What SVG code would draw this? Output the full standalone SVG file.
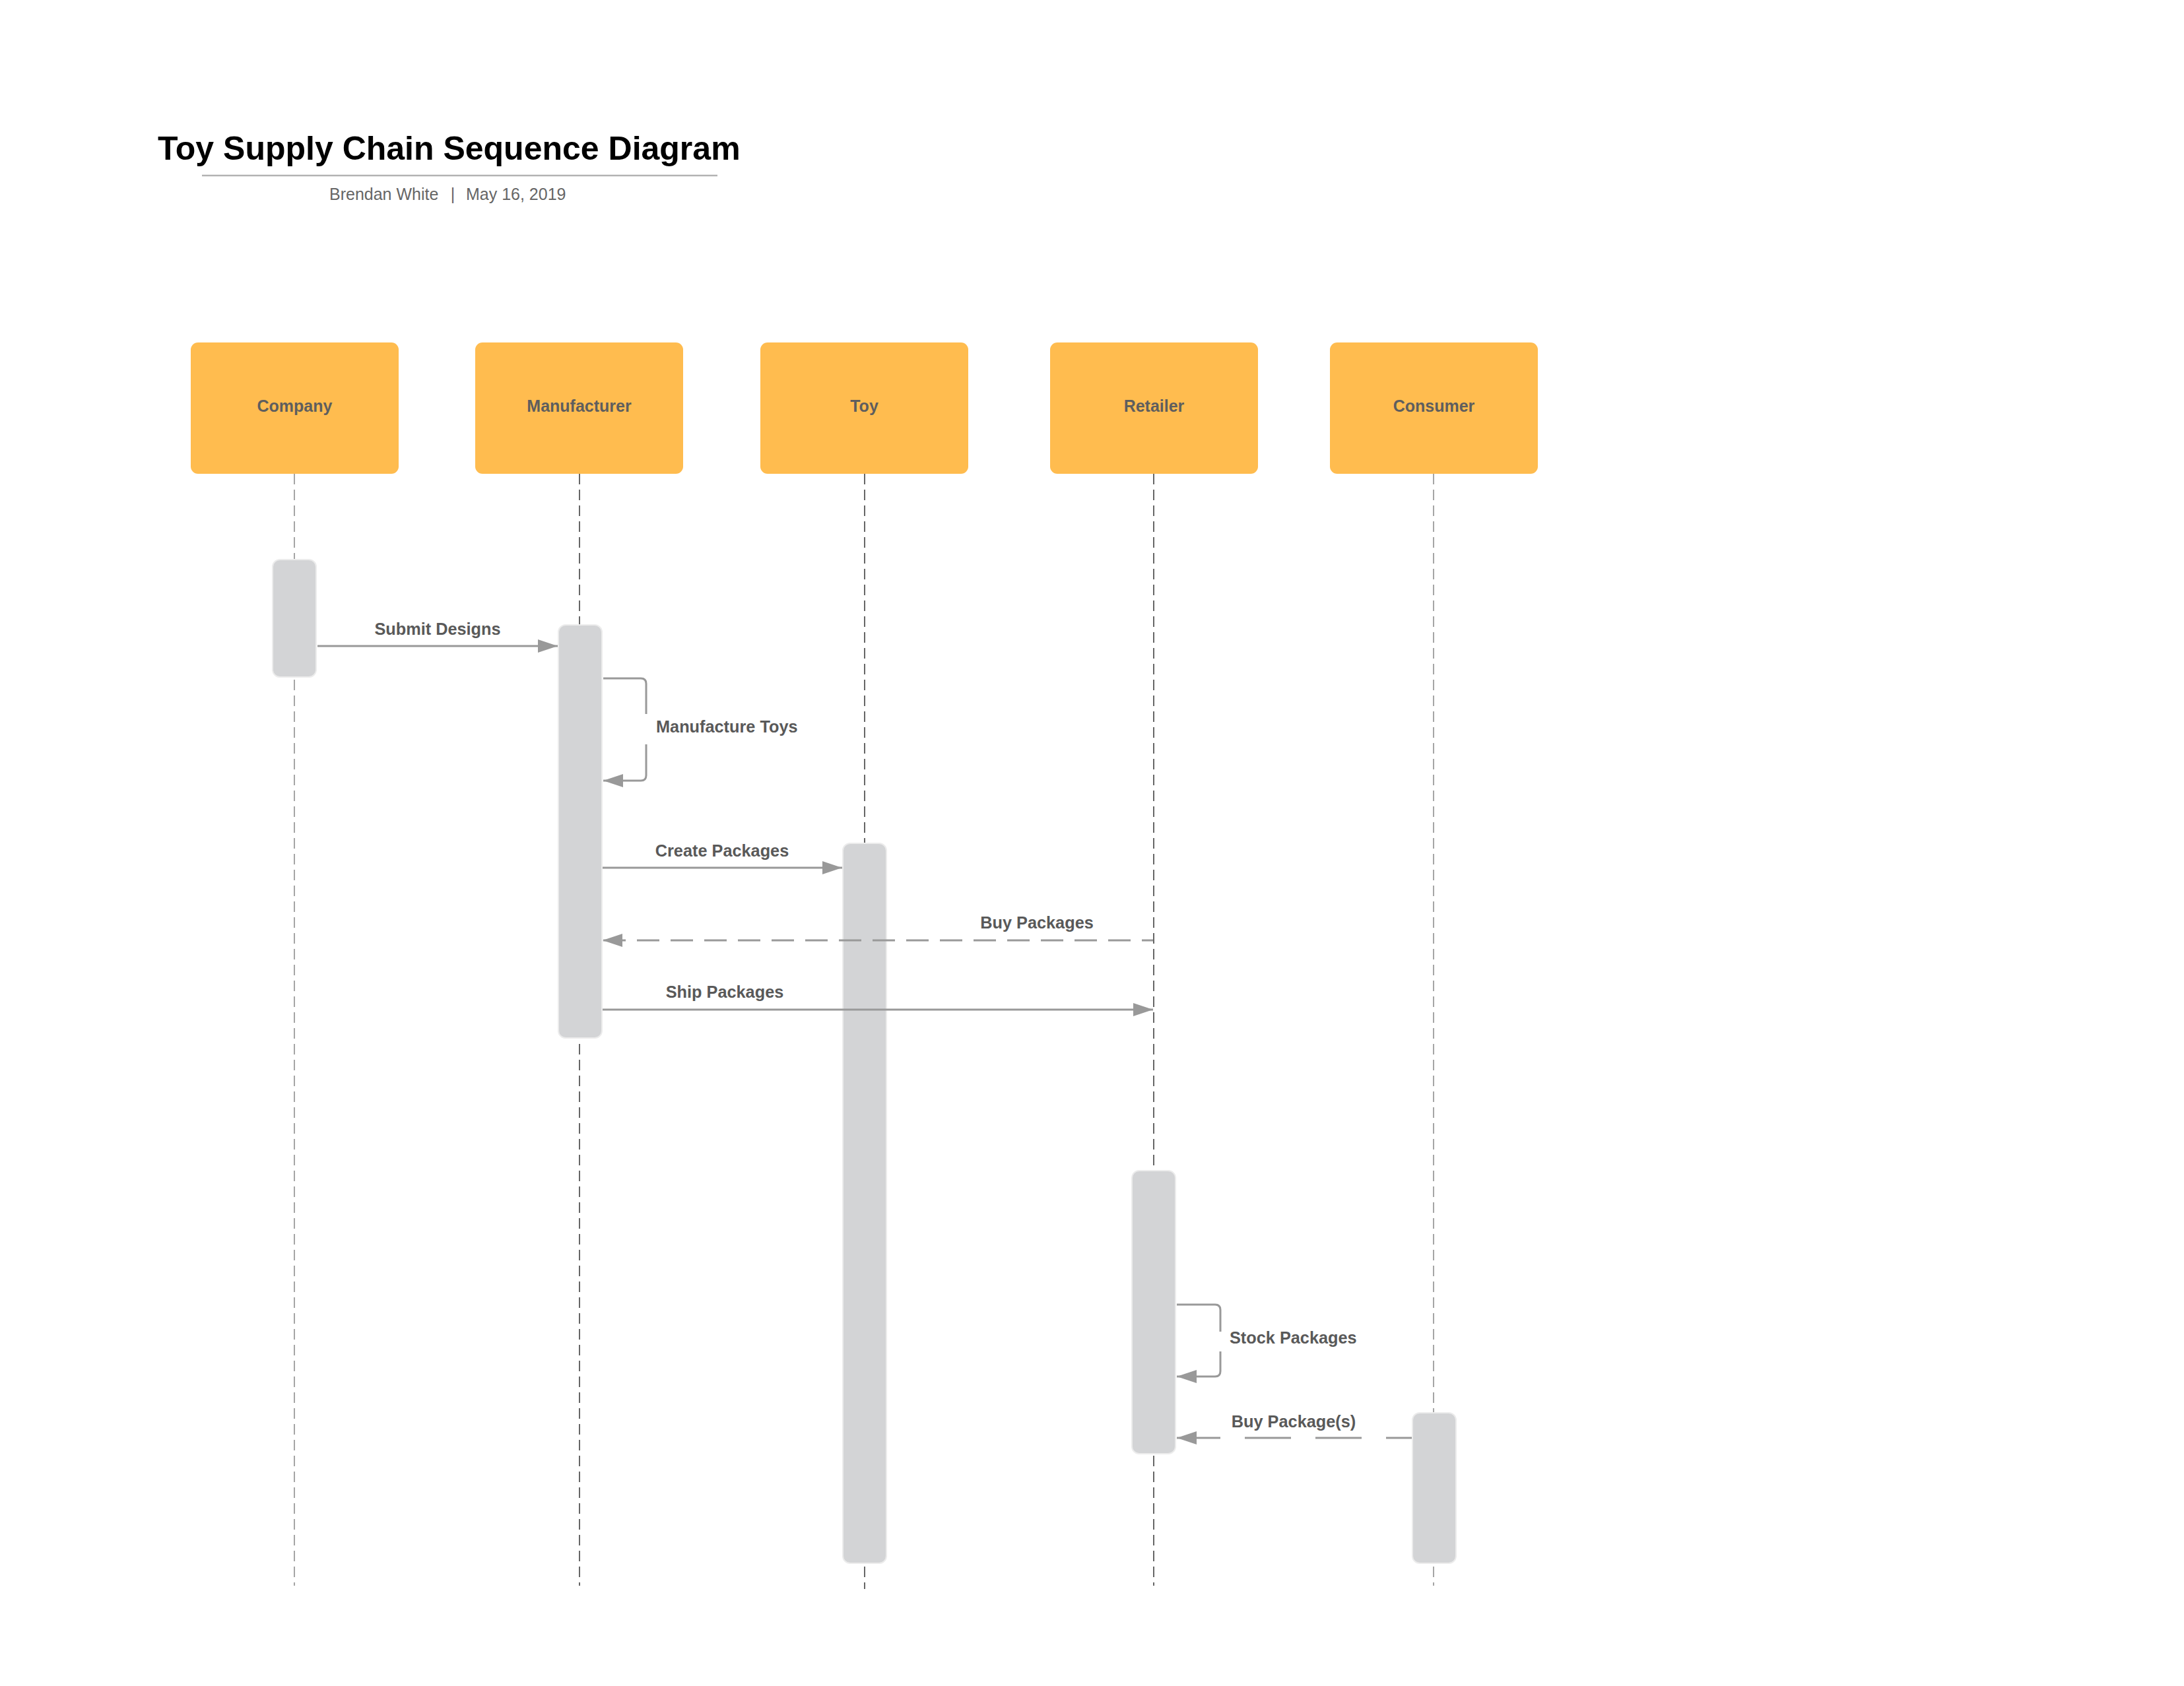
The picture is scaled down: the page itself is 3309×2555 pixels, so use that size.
<svg xmlns="http://www.w3.org/2000/svg" width="3309" height="2555" viewBox="0 0 3309 2555">
<defs>
<style>
.bg{fill:#FFFFFF}
.title{font-family:"Liberation Sans",Arial,sans-serif;font-weight:bold;font-size:50px;fill:#000000}
.sub{font-family:"Liberation Sans",Arial,sans-serif;font-size:25px;fill:#666666}
.head rect{fill:#FFBC4F}
.head text{font-family:"Liberation Sans",Arial,sans-serif;font-weight:bold;font-size:25px;fill:#5E5E5E;text-anchor:middle}
.life{stroke:#666666;stroke-width:2;stroke-dasharray:16 8;fill:none}
.life.light{stroke:#888888;stroke-width:1.5}
.act{fill:#D3D4D6;stroke:#ECECEC;stroke-width:2}
.msg{stroke:#999999;stroke-width:3;fill:none}
.lbl{font-family:"Liberation Sans",Arial,sans-serif;font-weight:bold;font-size:25.3px;fill:#595959}
.mid{text-anchor:middle}
</style>
<marker id="arrow" markerUnits="userSpaceOnUse" markerWidth="30" markerHeight="20" refX="30" refY="10" orient="auto">
<path d="M0,0 L30,10 L0,20 Z" fill="#999999"/>
</marker>
</defs>
<rect class="bg" x="0" y="0" width="3309" height="2555"/>

<g id="header">
<text class="title" x="239" y="242">Toy Supply Chain Sequence Diagram</text>
<line x1="306" y1="266" x2="1087" y2="266" stroke="#B3B3B3" stroke-width="2.5"/>
<text class="sub" x="499" y="303">Brendan White</text>
<text class="sub" x="686" y="303" text-anchor="middle">|</text>
<text class="sub" x="706" y="303">May 16, 2019</text>
</g>

<g id="lifelines">
<line class="life light" x1="446" y1="718" x2="446" y2="2403"/>
<line class="life" x1="878" y1="718" x2="878" y2="2403"/>
<line class="life" x1="1310" y1="718" x2="1310" y2="2408"/>
<line class="life" x1="1748" y1="718" x2="1748" y2="2403"/>
<line class="life light" x1="2172" y1="718" x2="2172" y2="2403"/>
</g>

<g id="node-company" class="head">
<rect x="289" y="519" width="315" height="199" rx="11"/>
<text x="446.5" y="624">Company</text>
</g>
<g id="node-manufacturer" class="head">
<rect x="720" y="519" width="315" height="199" rx="11"/>
<text x="877.5" y="624">Manufacturer</text>
</g>
<g id="node-toy" class="head">
<rect x="1152" y="519" width="315" height="199" rx="11"/>
<text x="1309.5" y="624">Toy</text>
</g>
<g id="node-retailer" class="head">
<rect x="1591" y="519" width="315" height="199" rx="11"/>
<text x="1748.5" y="624">Retailer</text>
</g>
<g id="node-consumer" class="head">
<rect x="2015" y="519" width="315" height="199" rx="11"/>
<text x="2172.5" y="624">Consumer</text>
</g>

<g id="activations">
<rect id="act-company" class="act" x="413" y="848" width="66" height="178" rx="11"/>
<rect id="act-manufacturer" class="act" x="846" y="947" width="66" height="626" rx="11"/>
<rect id="act-toy" class="act" x="1277" y="1278" width="66" height="1091" rx="11"/>
<rect id="act-retailer" class="act" x="1715" y="1774" width="66" height="429" rx="11"/>
<rect id="act-consumer" class="act" x="2140" y="2141" width="66" height="228" rx="11"/>
</g>

<g id="connectors">
<line class="msg" x1="481" y1="979" x2="845" y2="979" marker-end="url(#arrow)"/>
<path class="msg" d="M914,1028 H971 Q979,1028 979,1036 V1082"/>
<path class="msg" d="M979,1128 V1175 Q979,1183 971,1183 H914" marker-end="url(#arrow)"/>
<line class="msg" x1="913" y1="1315" x2="1276" y2="1315" marker-end="url(#arrow)"/>
<line class="msg" x1="1747" y1="1425" x2="913" y2="1425" stroke-dasharray="34 17" stroke-dashoffset="17" marker-end="url(#arrow)"/>
<line class="msg" x1="913" y1="1530" x2="1747" y2="1530" marker-end="url(#arrow)"/>
<path class="msg" d="M1783,1977 H1841 Q1849,1977 1849,1985 V2018"/>
<path class="msg" d="M1849,2048 V2078 Q1849,2086 1841,2086 H1783" marker-end="url(#arrow)"/>
<line class="msg" x1="2139" y1="2179" x2="1783" y2="2179" stroke-dasharray="70 37" stroke-dashoffset="31" marker-end="url(#arrow)"/>
</g>

<g id="labels">
<text class="lbl mid" x="663" y="962">Submit Designs</text>
<text class="lbl" x="994" y="1110">Manufacture Toys</text>
<text class="lbl mid" x="1094" y="1298">Create Packages</text>
<text class="lbl mid" x="1571" y="1407">Buy Packages</text>
<text class="lbl mid" x="1098" y="1512">Ship Packages</text>
<text class="lbl" x="1863" y="2036">Stock Packages</text>
<text class="lbl mid" x="1960" y="2163">Buy Package(s)</text>
</g>
</svg>
